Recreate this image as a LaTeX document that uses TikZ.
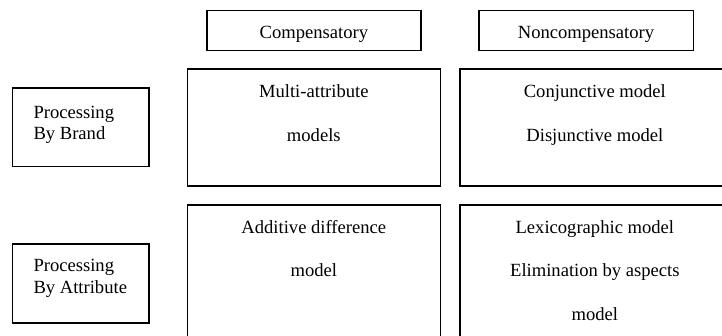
\documentclass[tikz,border=0pt]{standalone}
\usepackage{fontspec}
\setmainfont{Liberation Serif}
\begin{document}
\begin{tikzpicture}[x=1pt,y=-1pt,
  frame/.style={draw=black, line width=1.6pt, inner sep=0pt, outer sep=0pt, rectangle},
  txt/.style={font=\fontsize{18.6}{21.4}\selectfont, inner sep=0pt, anchor=base},
  sidetxt/.style={txt, anchor=base west}]
\useasboundingbox (0,0) rectangle (722,336);
\clip (0,0) rectangle (722,336);

% column headers
\node[frame, minimum width=214.3, minimum height=40] (comp) at (313.85,30.7) {};
\node[frame, minimum width=214.6, minimum height=40] (noncomp) at (586,30.7) {};
\node[txt] (compT) at (313.85,39) {Compensatory};
\node[txt] (noncompT) at (586,39) {Noncompensatory};

% row headers
\node[frame, minimum width=136.7, minimum height=78.4] (brand) at (80.65,127.5) {};
\node[frame, minimum width=136.7, minimum height=78.4] (attr) at (80.65,283.5) {};
\node[sidetxt] (brandA) at (33.3,118.3) {Processing};
\node[sidetxt] (brandB) at (33.3,139.3) {By Brand};
\node[sidetxt] (attrA) at (33.3,271.7) {Processing};
\node[sidetxt] (attrB) at (33.3,293.3) {By Attribute};

% cells
\node[frame, minimum width=253, minimum height=117] (multi) at (313.8,127.5) {};
\node[frame, minimum width=270.3, minimum height=117] (conj) at (594.85,127.5) {};
\node[frame, minimum width=253, minimum height=145] (addit) at (313.8,277.5) {};
\node[frame, minimum width=270.3, minimum height=145] (lexi) at (594.85,277.5) {};

\node[txt] (multiA) at (313.8,97.7) {Multi-attribute};
\node[txt] (multiB) at (313.8,141.7) {models};
\node[txt] (conjA) at (594.85,97.7) {Conjunctive model};
\node[txt] (conjB) at (594.85,141.7) {Disjunctive model};
\node[txt] (additA) at (313.8,234) {Additive difference};
\node[txt] (additB) at (313.8,277) {model};
\node[txt] (lexiA) at (594.85,234) {Lexicographic model};
\node[txt] (lexiB) at (594.85,277) {Elimination by aspects};
\node[txt] (lexiC) at (594.85,320) {model};
\end{tikzpicture}
\end{document}
